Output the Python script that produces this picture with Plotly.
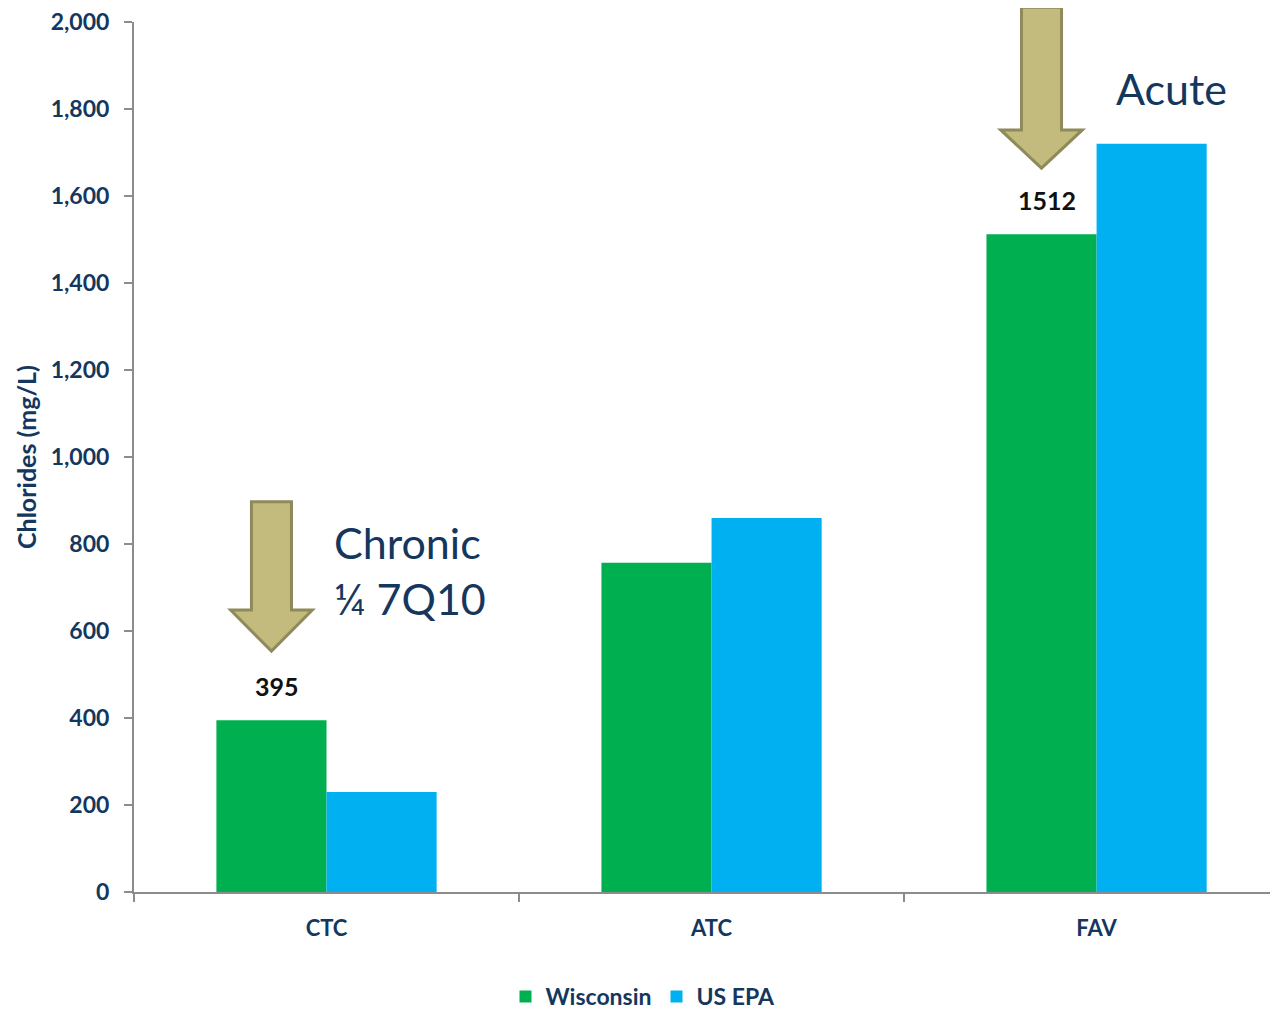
import plotly.graph_objects as go

# ---- data ----
categories = ["CTC", "ATC", "FAV"]
wisconsin = [395, 757, 1512]
us_epa = [230, 860, 1720]
y_ticks = [0, 200, 400, 600, 800, 1000, 1200, 1400, 1600, 1800, 2000]
y_tick_labels = ["0", "200", "400", "600", "800", "1,000", "1,200", "1,400", "1,600", "1,800", "2,000"]

# arrows: (category index, top value, head-base value, tip value)
arrow_cat = [0, 2]
arrow_top = [897, 2034]
arrow_head = [648, 1752]
arrow_tip = [554, 1664]

FONT = "Lato, 'Open Sans', sans-serif"
NAVY = "#14375E"
GREEN = "#00B050"
BLUE = "#00B0F0"
AX = "#8C8C8C"

YMAX = 2000
XMIN, XMAX = -0.5, 2.466
BAR_OFF = 0.143  # half of a single-bar width in category units (group width 0.572)

def px(x):
    return (x - XMIN) / (XMAX - XMIN)

def py(v):
    return v / YMAX

fig = go.Figure()
fig.add_trace(go.Bar(name="<b>Wisconsin</b>", x=categories, y=wisconsin, marker_color=GREEN,
                     marker_line_width=0))
fig.add_trace(go.Bar(name="<b>US EPA</b>", x=categories, y=us_epa, marker_color=BLUE,
                     marker_line_width=0))

shapes = []
sw, hw = 0.052, 0.106
for c, top, head, tip in zip(arrow_cat, arrow_top, arrow_head, arrow_tip):
    cx = c - BAR_OFF
    pts = [
        (cx - sw, top), (cx + sw, top), (cx + sw, head), (cx + hw, head),
        (cx, tip), (cx - hw, head), (cx - sw, head),
    ]
    path = "M " + " L ".join(f"{px(x):.5f},{py(y):.5f}" for x, y in pts) + " Z"
    shapes.append(dict(type="path", xref="paper", yref="paper", path=path,
                       fillcolor="#C3BB7D", line=dict(color="#8F8A5A", width=3),
                       layer="above"))

annotations = []
for c in arrow_cat:
    annotations.append(dict(x=c - BAR_OFF + 0.015, y=wisconsin[c], xref="x", yref="y",
                            text=f"<b>{wisconsin[c]}</b>", showarrow=False,
                            yanchor="bottom", yshift=17,
                            font=dict(family=FONT, size=25, color="#111111")))
annotations.append(dict(x=0.015, y=740, xref="x", yref="y", xanchor="left", yanchor="middle",
                        text="Chronic<br>¼ 7Q10", showarrow=False, align="left",
                        font=dict(family=FONT, size=43, color=NAVY)))
annotations.append(dict(x=2.046, y=1848, xref="x", yref="y", xanchor="left", yanchor="middle",
                        text="Acute", showarrow=False,
                        font=dict(family=FONT, size=43, color=NAVY)))
annotations.append(dict(x=0, y=0.5, xref="paper", yref="paper", xshift=-108,
                        xanchor="center", yanchor="middle",
                        text="<b>Chlorides (mg/L)</b>", textangle=-90, showarrow=False,
                        font=dict(family=FONT, size=25, color=NAVY)))

fig.update_layout(
    width=1270, height=1010,
    margin=dict(l=126, r=2, t=14, b=126),
    paper_bgcolor="white", plot_bgcolor="white",
    barmode="group", bargap=0.428, bargroupgap=0,
    font=dict(family=FONT, color=NAVY),
    showlegend=True,
    legend=dict(orientation="h", x=0.5, xanchor="center", xref="container",
                y=0.0, yref="container", yanchor="bottom",
                font=dict(family=FONT, size=23, color=NAVY), itemwidth=30,
                traceorder="normal"),
    shapes=shapes,
    annotations=annotations,
    xaxis=dict(type="category", range=[XMIN, XMAX], showgrid=False, automargin=False,
               showline=True, linecolor=AX, linewidth=2,
               ticks="outside", tickson="boundaries", ticklen=8, tickcolor=AX, tickwidth=2,
               tickfont=dict(family=FONT, size=22, color=NAVY),
               ticklabelstandoff=16, ticklabeloverflow="allow",
               tickvals=categories, ticktext=[f"<b>{c}</b>" for c in categories]),
    yaxis=dict(range=[0, YMAX], showgrid=False, zeroline=False, automargin=False,
               showline=True, linecolor=AX, linewidth=2,
               ticks="outside", ticklen=8, tickcolor=AX, tickwidth=2,
               tickvals=y_ticks, ticktext=[f"<b>{t}</b>" for t in y_tick_labels],
               tickfont=dict(family=FONT, size=23, color=NAVY),
               ticklabelstandoff=10, ticklabeloverflow="allow"),
)

fig.write_html("out.html")
